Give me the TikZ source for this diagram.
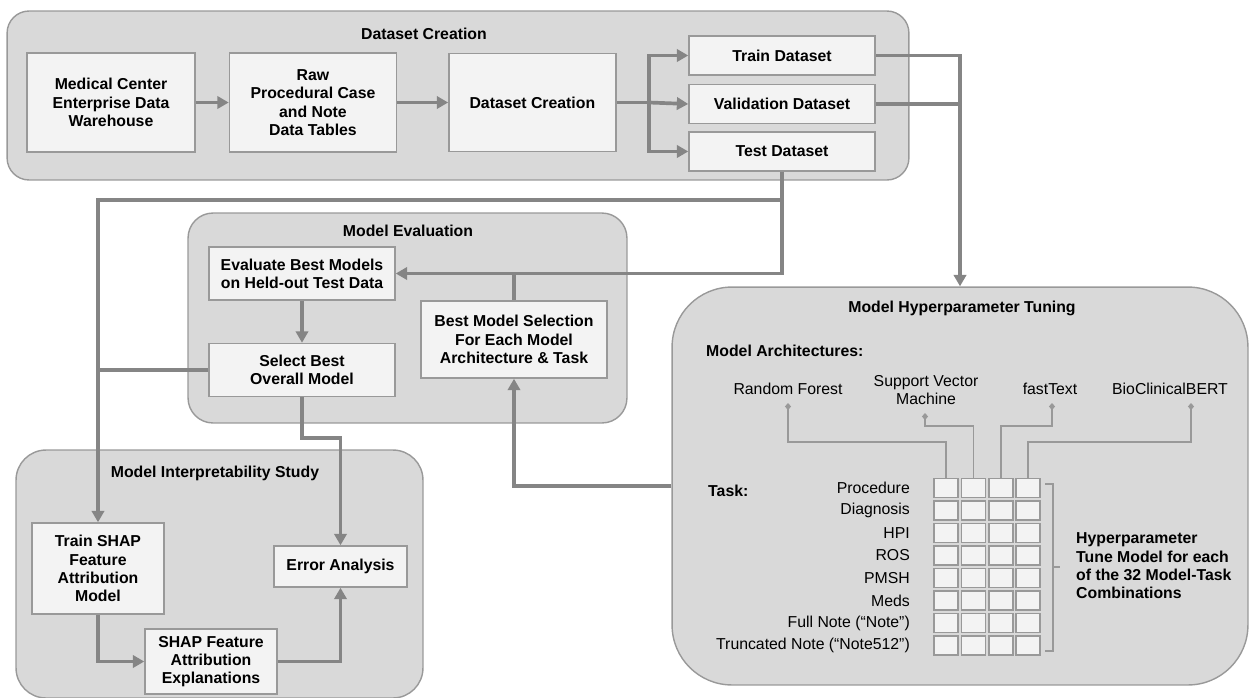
\documentclass[tikz,border=0pt]{standalone}
\usepackage{fontspec}
\setmainfont{Liberation Sans}
\usetikzlibrary{positioning,calc,arrows.meta}
\definecolor{grpfill}{HTML}{D9D9D9}
\definecolor{boxfill}{HTML}{F3F3F3}
\definecolor{edge}{HTML}{999999}
\definecolor{flow}{HTML}{858585}
\tikzset{line/.style={draw=flow, line width=2.1pt, -{Triangle[length=6.5pt,width=7pt]}}}
\tikzset{link/.style={draw=flow, line width=2.1pt}}
\tikzset{wire/.style={draw=edge, line width=0.85pt, {Diamond[length=4pt,width=3.5pt]}-}}

\begin{document}
\begin{tikzpicture}[x=0.02cm, y=-0.02cm, font=\fontsize{9}{10.4}\selectfont]
\tikzstyle{stage} = [rectangle, draw=edge, fill=grpfill, line width=0.8pt]
\tikzstyle{block} = [rectangle, draw=edge, fill=boxfill, line width=0.85pt, align=center, inner sep=0pt, font=\fontsize{9}{10.4}\selectfont\bfseries]
\tikzstyle{grouptitle} = [font=\fontsize{9}{10.4}\selectfont\bfseries]
\tikzstyle{cell} = [rectangle, draw=edge, fill=boxfill, line width=0.9pt, minimum width=0.48cm, minimum height=0.38cm, inner sep=0pt]

\useasboundingbox (0,0) rectangle (1250,697);

% stages
\node [stage, rounded corners=0.44cm, minimum width=18.04cm, minimum height=3.38cm](creation) at (458,95.5){};
\node [stage, rounded corners=0.5cm, minimum width=8.78cm, minimum height=4.2cm](evaluation) at (407.5,318){};
\node [stage, rounded corners=0.6cm, minimum width=8.14cm, minimum height=4.96cm](interpret) at (219.5,574){};
\node [stage, rounded corners=1.2cm, minimum width=11.52cm, minimum height=7.96cm](tuning) at (960,486){};

\node [grouptitle](creation_label) at (424,34){Dataset Creation};
\node [grouptitle](evaluation_label) at (408,231){Model Evaluation};
\node [grouptitle](interpret_label) at (215,473){Model Interpretability Study};
\node [grouptitle](tuning_label) at (962,308){Model Hyperparameter Tuning};

% dataset creation
\node [block, minimum width=3.36cm, minimum height=1.98cm](warehouse) at (111,102.5){Medical Center\\Enterprise Data\\Warehouse};
\node [block, minimum width=3.34cm, minimum height=1.98cm, right=0.66cm of warehouse](rawtables){Raw\\Procedural Case\\and Note\\Data Tables};
\node [block, minimum width=3.34cm, minimum height=1.96cm, right=1.02cm of rawtables](dscreate){Dataset Creation};
\node [block, minimum width=3.72cm, minimum height=0.78cm](train) at (782,55.5){Train Dataset};
\node [block, minimum width=3.72cm, minimum height=0.78cm, below=0.16cm of train](valid){Validation Dataset};
\node [block, minimum width=3.72cm, minimum height=0.78cm, below=0.14cm of valid](test){Test Dataset};

% model evaluation
\node [block, minimum width=3.72cm, minimum height=1.06cm](evalbest) at (302,273.5){Evaluate Best Models\\on Held-out Test Data};
\node [block, minimum width=3.72cm, minimum height=1.06cm, below=0.84cm of evalbest](selectbest){Select Best\\Overall Model};
\node [block, minimum width=3.72cm, minimum height=1.54cm](bestsel) at (514,339.5){Best Model Selection\\For Each Model\\Architecture \& Task};

% interpretability
\node [block, minimum width=2.64cm, minimum height=1.82cm](trainshap) at (98,568.5){Train SHAP\\Feature\\Attribution\\Model};
\node [block, minimum width=2.66cm, minimum height=0.82cm](erroran) at (340.5,566.5){Error Analysis};
\node [block, minimum width=2.64cm, minimum height=1.3cm](shapexpl) at (211,661.5){SHAP Feature\\Attribution\\Explanations};

% hyperparameter tuning
\node [grouptitle, anchor=west](arch_label) at (700,351){Model Architectures:};
\node (rf) at (788,389){Random Forest};
\node [align=center](svm) at (926,390){Support Vector\\Machine};
\node (ft) at (1050,389){fastText};
\node (bert) at (1170,389){BioClinicalBERT};
\coordinate (rfdot) at (788,403);
\coordinate (svmdot) at (925,413);
\coordinate (ftdot) at (1052,403);
\coordinate (bertdot) at (1191,403);

\foreach \r in {1,...,8}
  \foreach \c in {1,...,4}
    \node [cell](cell-\r-\c) at ({946+27.4*(\c-1)},{488+22.5*(\r-1)}){};

\node [grouptitle, anchor=west](task_label) at (702,491){Task:};
\foreach \r/\task in {1/Procedure, 2/Diagnosis, 3/HPI, 4/ROS, 5/PMSH, 6/Meds, 7/Full Note (“Note”), 8/Truncated Note (“Note512”)}
  \node [anchor=east](task-\r) at (916,{488+22.5*(\r-1)}){\task};

\draw [edge, line width=0.85pt] (1045,484) -- (1053,484) -- (1053,651) -- (1045,651);
\draw [edge, line width=0.85pt] (1053,567) -- (1060,567);
\node [grouptitle, anchor=west, align=left](tunetext) at (1070,566){Hyperparameter\\Tune Model for each\\of the 32 Model-Task\\Combinations};

\path [wire] (rfdot) -- ++(0,39) -| (cell-1-1.north);
\path [wire] (svmdot) -- ++(0,13) -| (cell-1-2.north);
\path [wire] (ftdot) -- ++(0,23) -| (cell-1-3.north);
\path [wire] (bertdot) -- ++(0,39) -| (cell-1-4.north);

% flow
\coordinate (split) at (649,102.5);
\path [line] (warehouse) -- (rawtables);
\path [line] (rawtables) -- (dscreate);
\path [link] (dscreate.east) -- (split);
\path [line] (split) |- (train.west);
\path [line] (split) -- (valid.west);
\path [line] (split) |- (test.west);
\path [line] (train.east) -| (tuning.north);
\path [link] (valid.east) -- (valid.east -| tuning.north);
\path [line] (test.south) -- ++(0,28) -| (trainshap.north);
\path [line] (test.south) |- (evalbest.east);
\path [link] (bestsel.north) -- (bestsel.north |- evalbest.east);
\path [line] (evalbest) -- (selectbest);
\path [link] (selectbest.west) -- (selectbest.west -| trainshap.north);
\path [line] (selectbest.south) -- ++(0,41) -| (erroran.north);
\path [line] (tuning.west) -| (bestsel.south);
\path [line] (trainshap.south) |- (shapexpl.west);
\path [line] (shapexpl.east) -| (erroran.south);

\end{tikzpicture}
\end{document}
